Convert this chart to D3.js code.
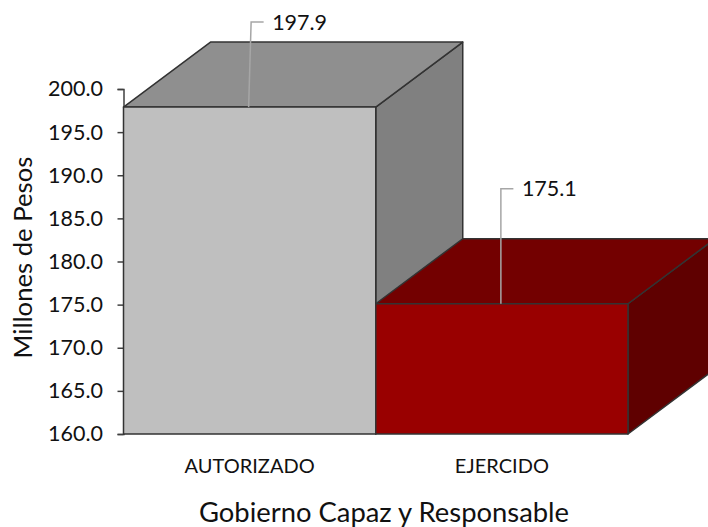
<!DOCTYPE html>
<html>
<head>
<meta charset="utf-8">
<script src="https://cdn.jsdelivr.net/npm/d3@7"></script>
<style>
  html, body { margin: 0; padding: 0; background: #fff; }
  text { font-family: Lato, "Open Sans", sans-serif; fill: #111; }
</style>
</head>
<body>
<svg id="chart" width="708" height="527"></svg>
<script>
var categories = ['AUTORIZADO', 'EJERCIDO'];
var values = [197.9, 175.1];
var valueLabels = ['197.9', '175.1'];
var yTicks = [160, 165, 170, 175, 180, 185, 190, 195, 200];
var frontColors = ['#bfbfbf', '#990000'];
var topColors = ['#8f8f8f', '#730000'];
var sideColors = ['#808080', '#5f0000'];

var svg = d3.select('#chart');
var x = d3.scaleBand().domain(categories).range([123.5, 628]);
var y = d3.scaleLinear().domain([160, 200]).range([434, 89]);

// depth of the fake 3d box
var dx = 87, dy = -65;
var edge = '#333';

function poly(points) {
  return d3.line()(points) + 'Z';
}

// y axis
var yAxis = d3.axisLeft(y).tickValues(yTicks).tickFormat(d3.format('.1f')).tickSize(6).tickPadding(14.5);
var gy = svg.append('g').attr('transform', 'translate(123.5,0)').call(yAxis);
gy.select('.domain').attr('stroke', '#404040').attr('stroke-width', 1.5);
gy.selectAll('.tick line').attr('stroke', '#404040').attr('stroke-width', 1.5);
gy.selectAll('.tick text').style('font-size', '21.5px');

// x labels, no tick marks
var xAxis = d3.axisBottom(x).tickSize(0).tickPadding(25);
var gx = svg.append('g').attr('transform', 'translate(0,434)').call(xAxis);
gx.select('.domain').remove();
gx.selectAll('.tick text').style('font-size', '20px');

// boxes, drawn left to right so the second covers the first one's side
categories.forEach(function(c, i) {
  var x0 = x(c), x1 = x(c) + x.bandwidth();
  var yT = y(values[i]), yB = y(160);
  var g = svg.append('g').attr('stroke', edge).attr('stroke-width', 1.5).attr('stroke-linejoin', 'round');

  g.append('path').attr('fill', sideColors[i])
    .attr('d', poly([[x1, yT], [x1 + dx, yT + dy], [x1 + dx, yB + dy], [x1, yB]]));
  g.append('path').attr('fill', topColors[i])
    .attr('d', poly([[x0, yT], [x0 + dx, yT + dy], [x1 + dx, yT + dy], [x1, yT]]));
  g.append('path').attr('fill', frontColors[i])
    .attr('d', poly([[x0, yT], [x1, yT], [x1, yB], [x0, yB]]));
});

// leader lines and value labels
var leaderRise = [85, 115];
var leaderLean = [2.5, 0];
categories.forEach(function(c, i) {
  var cx = x(c) + x.bandwidth() / 2 - 1;
  var yT = y(values[i]);
  var topY = yT - leaderRise[i];
  svg.append('path')
    .attr('fill', 'none').attr('stroke', '#a6a6a6').attr('stroke-width', 1.5)
    .attr('d', d3.line()([[cx, yT], [cx + leaderLean[i], topY], [cx + leaderLean[i] + 12.5, topY]]));
  svg.append('text')
    .attr('x', cx + leaderLean[i] + 21)
    .attr('y', topY)
    .attr('dy', '0.35em')
    .style('font-size', '21.5px')
    .text(valueLabels[i]);
});

svg.append('text')
  .attr('transform', 'translate(32,257.5) rotate(-90)')
  .attr('text-anchor', 'middle')
  .style('font-size', '25.7px')
  .text('Millones de Pesos');

svg.append('text')
  .attr('x', 384).attr('y', 522)
  .attr('text-anchor', 'middle')
  .style('font-size', '27.4px')
  .text('Gobierno Capaz y Responsable');
</script>
</body>
</html>
